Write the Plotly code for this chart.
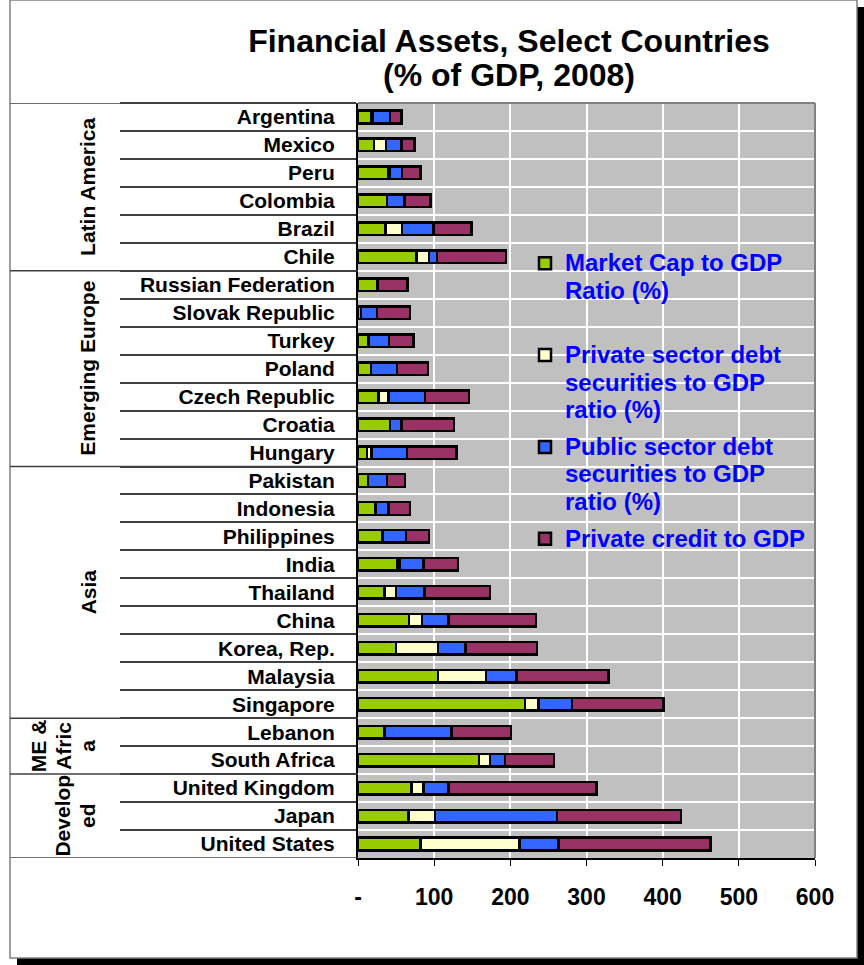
import plotly.graph_objects as go

# ---------------- data ----------------
countries = ["Argentina", "Mexico", "Peru", "Colombia", "Brazil", "Chile",
             "Russian Federation", "Slovak Republic", "Turkey", "Poland",
             "Czech Republic", "Croatia", "Hungary",
             "Pakistan", "Indonesia", "Philippines", "India", "Thailand", "China",
             "Korea, Rep.", "Malaysia", "Singapore",
             "Lebanon", "South Africa",
             "United Kingdom", "Japan", "United States"]

market_cap     = [17, 21, 40, 38, 36, 77,
                  25, 4, 14, 17, 27, 42, 12,
                  13, 23, 32, 52, 35, 67, 50, 105, 219,
                  35, 159,
                  70, 66, 82]
private_debt   = [2, 16, 2, 0, 22, 16,
                  0, 0, 0, 0, 13, 0, 6,
                  0, 0, 0, 3, 15, 17, 55, 63, 18,
                  0, 14,
                  16, 35, 130]
public_debt    = [23, 20, 16, 23, 41, 11,
                  1, 21, 27, 34, 48, 15, 46,
                  25, 17, 31, 31, 37, 35, 36, 40, 44,
                  88, 20,
                  33, 160, 51]
private_credit = [15, 17.5, 24, 34, 50, 90,
                  39, 43, 32, 41, 58, 69, 65,
                  24, 28, 30, 45, 86, 115, 94, 121, 120,
                  78, 64,
                  194, 163, 200]

series_names = [["Market Cap to GDP", "Ratio (%)", " "],
                ["Private sector debt", "securities to GDP", "ratio (%)"],
                ["Public sector debt", "securities to GDP", "ratio (%)"],
                ["Private credit to GDP"]]
series_colors = ["#99CC00", "#FFFFCC", "#3366FF", "#993366"]

group_names = [["Latin America"], ["Emerging Europe"], ["Asia"],
               ["ME &", "Afric", "a"], ["Develop", "ed"]]
group_sizes = [6, 7, 9, 2, 3]

x_tickvals = [0, 100, 200, 300, 400, 500, 600]
x_ticktext = ["-", "100", "200", "300", "400", "500", "600"]

title_lines = ["Financial Assets, Select Countries", "(% of GDP, 2008)"]

# ---------------- layout helpers (pixels -> paper) ----------------
W, H = 864, 965
L, R, T, B = 358, 815, 103, 858
FONT = "Liberation Sans, Arial, Helvetica, sans-serif"


def px(x):
    return (x - L) / (R - L)


def py(y):
    return (B - y) / (B - T)


def lines(parts, size):
    return "<br>".join('<span style="font-size:%dpx">%s</span>' % (size, p) for p in parts)


fig = go.Figure()
series = [market_cap, private_debt, public_debt, private_credit]
for vals, nm, col in zip(series, series_names, series_colors):
    fig.add_trace(go.Bar(
        y=countries, x=vals, orientation="h",
        name=lines(nm, 24), legendgroup=nm[0],
        marker=dict(color=col, line=dict(color="black", width=2.5)),
        hoverinfo="x+y",
    ))

shapes = []
# outer frame shadow
shapes.append(dict(type="rect", xref="paper", yref="paper",
                   x0=px(857), x1=px(864), y0=py(965), y1=py(7),
                   fillcolor="black", line=dict(width=0), layer="above"))
shapes.append(dict(type="rect", xref="paper", yref="paper",
                   x0=px(17), x1=px(864), y0=py(965), y1=py(958),
                   fillcolor="black", line=dict(width=0), layer="above"))
# outer frame
shapes.append(dict(type="rect", xref="paper", yref="paper",
                   x0=px(10), x1=px(857), y0=py(958), y1=py(0),
                   line=dict(color="#808080", width=1.5), layer="above"))
# plot area border (top, right)
shapes.append(dict(type="line", xref="paper", yref="paper",
                   x0=0, x1=1, y0=1, y1=1, line=dict(color="#808080", width=2)))
shapes.append(dict(type="line", xref="paper", yref="paper",
                   x0=1, x1=1, y0=0, y1=1, line=dict(color="#808080", width=2)))

# group boundary lines and labels
annotations = []
start = 0
shapes.append(dict(type="line", xref="paper", yref="y",
                   x0=px(10), x1=0, y0=-0.5, y1=-0.5,
                   line=dict(color="#404040", width=1.5)))
group_x = {1: 88, 2: 75.5, 3: 63}
for gname, gsize in zip(group_names, group_sizes):
    end = start + gsize
    shapes.append(dict(type="line", xref="paper", yref="y",
                       x0=px(10), x1=0, y0=end - 0.5, y1=end - 0.5,
                       line=dict(color="#404040", width=1.5)))
    annotations.append(dict(
        text=lines(gname, 21), xref="paper", yref="y",
        x=px(group_x[len(gname)]), y=(start + end - 1) / 2,
        xanchor="center", yanchor="middle", textangle=-90, showarrow=False,
        font=dict(family=FONT, size=19, color="black", weight="bold"),
    ))
    start = end

fig.update_layout(
    width=W, height=H,
    margin=dict(l=L, r=W - R, t=T, b=H - B, autoexpand=False),
    paper_bgcolor="white", plot_bgcolor="#C0C0C0",
    barmode="stack", bargap=0.55,
    font=dict(family=FONT, color="black"),
    title=dict(text=lines(title_lines, 32), xref="container", yref="container",
               x=509 / W, xanchor="center", y=1 - 52 / H, yanchor="top",
               font=dict(family=FONT, size=26, color="black", weight="bold")),
    xaxis=dict(range=[0, 600], tickvals=x_tickvals, ticktext=x_ticktext,
               ticks="outside", ticklen=6, tickcolor="black", tickwidth=1,
               showline=True, linecolor="black", linewidth=2,
               showgrid=True, gridcolor="white", gridwidth=1.5, zeroline=False,
               tickfont=dict(family=FONT, size=23, color="black", weight="bold"),
               ticklabelstandoff=11, fixedrange=True),
    yaxis=dict(type="category", categoryorder="array", categoryarray=countries,
               range=[26.5, -0.5], tickson="boundaries",
               ticks="outside", ticklen=236, tickcolor="#404040", tickwidth=1.5,
               showline=True, linecolor="black", linewidth=2,
               showgrid=True, gridcolor="white", gridwidth=1.5,
               tickfont=dict(family=FONT, size=21, color="black", weight="bold"),
               ticklabelstandoff=17, fixedrange=True),
    legend=dict(x=px(525), y=py(243), xanchor="left", yanchor="top",
                valign="top", traceorder="grouped", tracegroupgap=7,
                bgcolor="rgba(0,0,0,0)", borderwidth=0,
                font=dict(family=FONT, size=21, color="#0000FF", weight="bold")),
    shapes=shapes, annotations=annotations,
    showlegend=True,
)

fig.write_html("out.html")
